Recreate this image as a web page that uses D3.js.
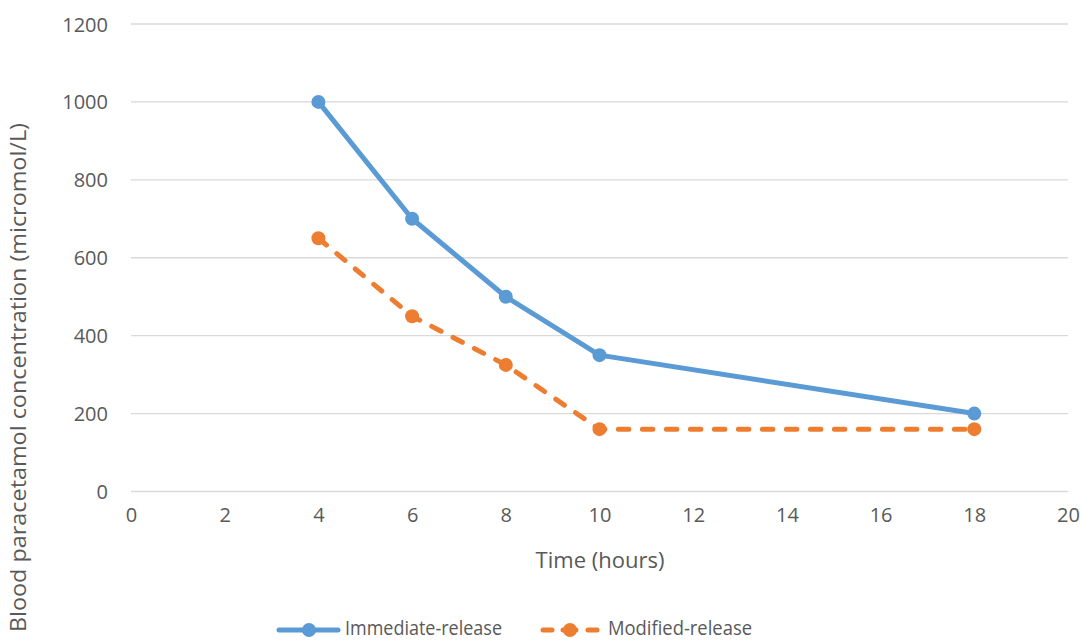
<!DOCTYPE html>
<html>
<head>
<meta charset="utf-8">
<script src="https://cdn.jsdelivr.net/npm/d3@7"></script>
<style>
  html, body { margin: 0; padding: 0; background: #fff; }
  svg { display: block; }
  text { font-family: "Open Sans", "Noto Sans", sans-serif; fill: #595959; }
</style>
</head>
<body>
<svg id="chart" width="1082" height="641"></svg>
<script>
const hours = [4, 6, 8, 10, 18];
const immediateRelease = [1000, 700, 500, 350, 200];
const modifiedRelease = [650, 450, 325, 160, 160];
const seriesNames = ["Immediate-release", "Modified-release"];
const seriesColors = ["#5B9BD5", "#ED7D31"];
const xTicks = [0, 2, 4, 6, 8, 10, 12, 14, 16, 18, 20];
const yTicks = [0, 200, 400, 600, 800, 1000, 1200];
const xTitle = "Time (hours)";
const yTitle = "Blood paracetamol concentration (micromol/L)";

(function () {
const svg = d3.select("#chart");
const pLeft = 131, pRight = 1068, pTop = 24, pBottom = 491.5;

const x = d3.scaleLinear().domain([0, 20]).range([pLeft, pRight]);
const y = d3.scaleLinear().domain([0, 1200]).range([pBottom, pTop]);

// gridlines
svg.append("g").selectAll("line").data(yTicks).join("line")
  .attr("x1", pLeft).attr("x2", pRight)
  .attr("y1", d => y(d)).attr("y2", d => y(d))
  .attr("stroke", "#D9D9D9").attr("stroke-width", 1.3);

// y axis labels
const yAxis = d3.axisLeft(y).tickValues(yTicks).tickFormat(d3.format("d")).tickSize(0).tickPadding(0);
const gy = svg.append("g").attr("transform", `translate(${108},0)`).call(yAxis);
gy.select(".domain").remove();
gy.selectAll("text").style("font-size", "20px").style("font-family", "'Open Sans', sans-serif")
  .attr("fill", "#595959").attr("dy", "0.35em");

// x axis labels
const xAxis = d3.axisBottom(x).tickValues(xTicks).tickFormat(d3.format("d")).tickSize(0).tickPadding(0);
const gx = svg.append("g").attr("transform", `translate(0,${pBottom + 16})`).call(xAxis);
gx.select(".domain").remove();
gx.selectAll("text").style("font-size", "20px").style("font-family", "'Open Sans', sans-serif")
  .attr("fill", "#595959").attr("dy", "0.71em");

// titles
svg.append("text").attr("x", 600).attr("y", 568)
  .attr("text-anchor", "middle").style("font-size", "22px").text(xTitle);
svg.append("text").attr("transform", `translate(26,${632}) rotate(-90)`)
  .attr("text-anchor", "start").style("font-size", "21px")
  .attr("textLength", 509).attr("lengthAdjust", "spacingAndGlyphs")
  .text(yTitle);

const series = [immediateRelease, modifiedRelease];
const line = d3.line().x((d, i) => x(hours[i])).y(d => y(d));

series.forEach((vals, si) => {
  svg.append("path").datum(vals)
    .attr("d", line)
    .attr("fill", "none")
    .attr("stroke", seriesColors[si])
    .attr("stroke-width", 5)
    .attr("stroke-linecap", "round")
    .attr("stroke-linejoin", "round")
    .attr("stroke-dasharray", si === 1 ? "10.5,13.5" : null);
  svg.append("g").selectAll("circle").data(vals).join("circle")
    .attr("cx", (d, i) => x(hours[i])).attr("cy", d => y(d))
    .attr("r", 7).attr("fill", seriesColors[si]);
});

// legend
const legendY = 630;
const legendItems = [
  { mx: 309, tx: 345, tl: 157 },
  { mx: 570, tx: 608, tl: 144 }
];
legendItems.forEach((it, si) => {
  if (si === 0) {
    svg.append("line").attr("x1", 279).attr("x2", 338)
      .attr("y1", legendY).attr("y2", legendY)
      .attr("stroke", seriesColors[si]).attr("stroke-width", 5)
      .attr("stroke-linecap", "round");
  } else {
    [[543, 552], [563, 576], [588, 597]].forEach(seg => {
      svg.append("line").attr("x1", seg[0]).attr("x2", seg[1])
        .attr("y1", legendY).attr("y2", legendY)
        .attr("stroke", seriesColors[si]).attr("stroke-width", 5)
        .attr("stroke-linecap", "round");
    });
  }
  svg.append("circle").attr("cx", it.mx).attr("cy", legendY).attr("r", 7)
    .attr("fill", seriesColors[si]);
  svg.append("text").attr("x", it.tx).attr("y", 635)
    .style("font-size", "19.5px")
    .attr("textLength", it.tl).attr("lengthAdjust", "spacingAndGlyphs")
    .text(seriesNames[si]);
});
})();
</script>
</body>
</html>
